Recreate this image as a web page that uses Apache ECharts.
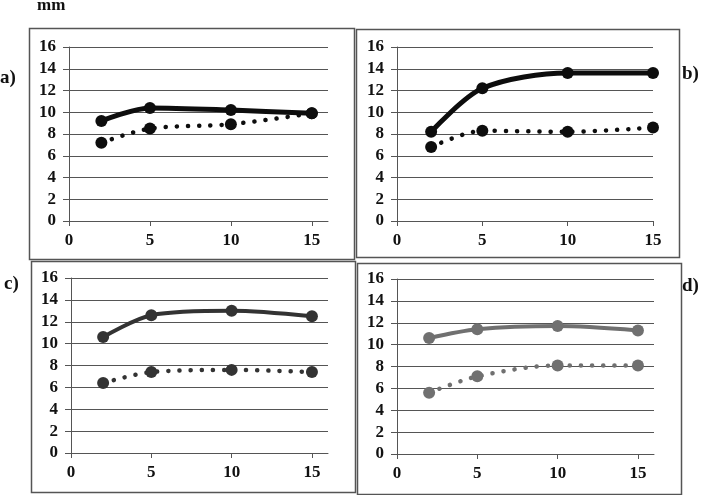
<!DOCTYPE html>
<html>
<head>
<meta charset="utf-8">
<script src="https://cdn.jsdelivr.net/npm/echarts@6/dist/echarts.min.js"></script>
<style>
  html, body { margin: 0; padding: 0; background: #fff; }
  #chart { width: 709px; height: 495px; }
</style>
</head>
<body>
<div id="chart"></div>
<script>
// x values (time) shared by all panels
var xVals = [2, 5, 10, 15];
var xTicks = [0, 5, 10, 15];

// panel a
var aSolid = [9.2, 10.4, 10.2, 9.9];
var aDotted = [7.2, 8.5, 8.9, 9.9];
// panel b
var bSolid = [8.2, 12.2, 13.6, 13.6];
var bDotted = [6.8, 8.3, 8.2, 8.6];
// panel c
var cSolid = [10.6, 12.6, 13.0, 12.5];
var cDotted = [6.4, 7.4, 7.6, 7.4];
// panel d
var dSolid = [10.6, 11.4, 11.7, 11.3];
var dDotted = [5.6, 7.1, 8.1, 8.1];

var panelLabels = ['a)', 'b)', 'c)', 'd)'];
var unitLabel = 'mm';

var font = 'Liberation Serif';
var axisColor = '#555';

function pairs(ys) {
  return xVals.map(function (x, i) { return [x, ys[i]]; });
}

// plot area of each panel
var grids = [
  { left: 69, top: 47, width: 259, height: 174 },
  { left: 397, top: 47, width: 256, height: 174 },
  { left: 71, top: 278, width: 257, height: 175 },
  { left: 397, top: 279, width: 257, height: 175 }
];
var xMax = [16, 15, 16, 16];

var xAxes = grids.map(function (g, i) {
  return {
    type: 'value', gridIndex: i, min: 0, max: xMax[i],
    axisLine: { show: true, lineStyle: { color: axisColor, width: 1 } },
    axisTick: { show: true, length: 5, lineStyle: { color: axisColor }, customValues: xTicks },
    axisLabel: {
      customValues: xTicks, margin: 11,
      fontFamily: font, fontWeight: 'bold', fontSize: 17, color: '#111'
    },
    splitLine: { show: false }
  };
});

var yAxes = grids.map(function (g, i) {
  return {
    type: 'value', gridIndex: i, min: 0, max: 16, interval: 2,
    axisLine: { show: true, lineStyle: { color: axisColor, width: 1 } },
    axisTick: { show: true, length: 6, lineStyle: { color: axisColor } },
    axisLabel: {
      margin: 13,
      fontFamily: font, fontWeight: 'bold', fontSize: 17, color: '#111'
    },
    splitLine: { show: true, lineStyle: { color: axisColor, width: 1 } }
  };
});

var panels = [
  { solid: aSolid, dotted: aDotted, color: '#0d0d0d', w: 5 },
  { solid: bSolid, dotted: bDotted, color: '#0d0d0d', w: 5 },
  { solid: cSolid, dotted: cDotted, color: '#333333', w: 4 },
  { solid: dSolid, dotted: dDotted, color: '#707070', w: 4 }
];

var series = [];
panels.forEach(function (p, i) {
  series.push({
    type: 'line', xAxisIndex: i, yAxisIndex: i,
    data: pairs(p.solid), smooth: 0.3,
    symbol: 'circle', symbolSize: 12,
    itemStyle: { color: p.color },
    lineStyle: { color: p.color, width: p.w },
    z: 3
  });
  series.push({
    type: 'line', xAxisIndex: i, yAxisIndex: i,
    data: pairs(p.dotted), smooth: 0.3,
    symbol: 'circle', symbolSize: 12,
    itemStyle: { color: p.color },
    lineStyle: { color: p.color, width: 4.5, type: [0.1, 11], cap: 'round' },
    z: 3
  });
});

// panel frames and labels
var frames = [
  { x: 29, y: 28, w: 325, h: 231 },
  { x: 356, y: 29, w: 323, h: 228 },
  { x: 31, y: 261, w: 324, h: 231 },
  { x: 357, y: 263, w: 324, h: 231 }
];
var graphic = frames.map(function (f) {
  return {
    type: 'rect', shape: { x: f.x + 0.5, y: f.y + 0.5, width: f.w, height: f.h },
    style: { fill: null, stroke: '#555', lineWidth: 1.5 }, silent: true, z: 0
  };
});
var labelPos = [[0, 78], [682, 74], [4, 284], [682, 286]];
labelPos.forEach(function (p, i) {
  graphic.push({
    type: 'text', x: p[0], y: p[1],
    style: {
      text: panelLabels[i], fontFamily: font, fontWeight: 'bold', fontSize: 19,
      fill: '#111', verticalAlign: 'middle'
    }
  });
});
graphic.push({
  type: 'text', x: 37, y: 6,
  style: {
    text: unitLabel, fontFamily: font, fontWeight: 'bold', fontSize: 17,
    fill: '#111', verticalAlign: 'middle'
  }
});

var chart = echarts.init(document.getElementById('chart'));
chart.setOption({
  animation: false,
  backgroundColor: '#fff',
  grid: grids,
  xAxis: xAxes,
  yAxis: yAxes,
  series: series,
  graphic: graphic
});
</script>
</body>
</html>
